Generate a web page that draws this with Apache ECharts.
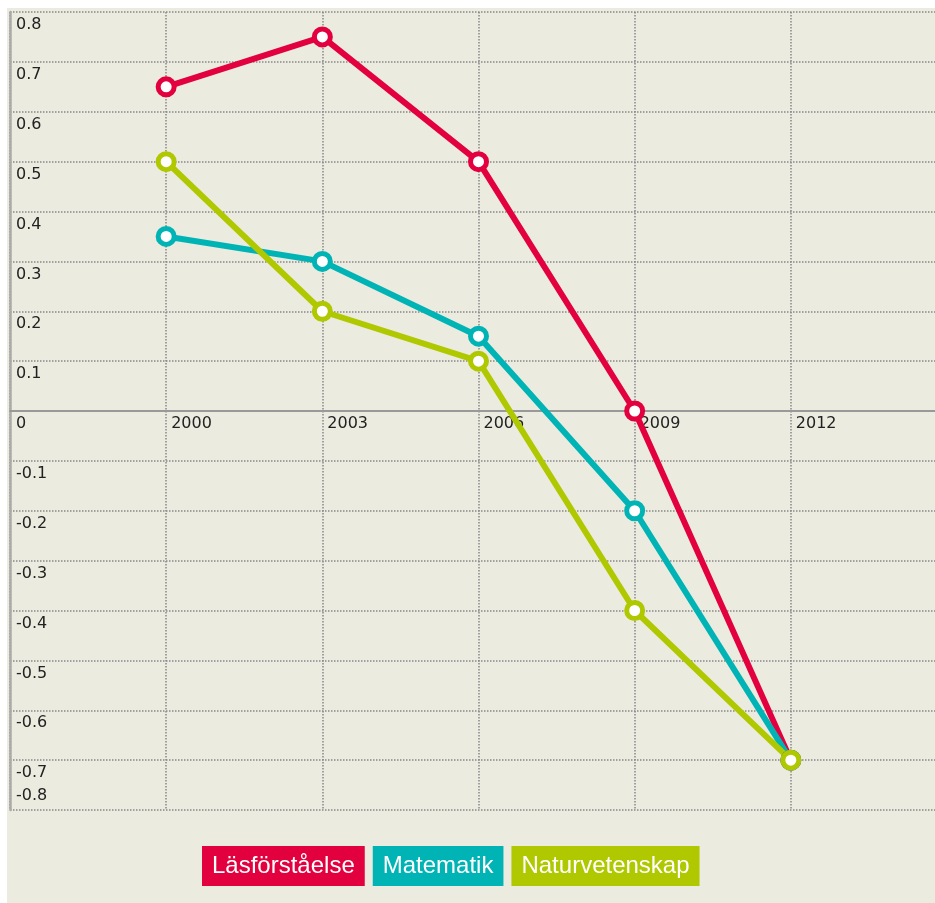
<!DOCTYPE html>
<html>
<head>
<meta charset="utf-8">
<script src="https://cdn.jsdelivr.net/npm/echarts@6/dist/echarts.min.js"></script>
<style>
  html, body { margin: 0; padding: 0; background: #fff; }
  #chart {
    position: absolute;
    left: 7px;
    top: 8px;
    width: 928px;
    height: 895px;
    background: #ecebe0;
  }
</style>
</head>
<body>
<div id="chart"></div>
<script>
  // PISA-style trend, change relative to mean
  const years = [2000, 2003, 2006, 2009, 2012];
  const lasforstaelse = [0.65, 0.75, 0.5, 0.0, -0.7];
  const matematik = [0.35, 0.3, 0.15, -0.2, -0.7];
  const naturvetenskap = [0.5, 0.2, 0.1, -0.4, -0.7];

  const seriesNames = ["Läsförståelse", "Matematik", "Naturvetenskap"];
  const seriesColors = ["#e2003e", "#00b3b5", "#afc800"];
  const seriesValues = [lasforstaelse, matematik, naturvetenskap];

  const chart = echarts.init(document.getElementById("chart"));

  const fmt = (v) => {
    const r = Math.round(v * 10) / 10;
    return r === 0 ? "0" : String(r);
  };

  const labelFont = {
    fontFamily: "DejaVu Sans",
    fontSize: 16,
    color: "#222",
  };

  const gridLine = { type: [1.5, 1.5], color: "#888", width: 1.5 };

  const option = {
    animation: false,
    grid: {
      left: 3,
      top: 4,
      width: 937,
      height: 798,
      outerBoundsMode: "none",
    },
    legend: {
      top: 838,
      left: 189,
      padding: 0,
      itemGap: 2,
      itemWidth: 0,
      itemHeight: 0,
      selectedMode: false,
      textStyle: {
        fontFamily: "Liberation Sans",
        fontSize: 24,
        color: "#fff",
        padding: [8, 10],
        lineHeight: 24,
      },
      data: seriesNames.map((n, i) => ({
        name: n,
        icon: "rect",
        textStyle: { backgroundColor: seriesColors[i] },
      })),
    },
    xAxis: {
      type: "value",
      min: 1997,
      max: 2015,
      interval: 3,
      position: "bottom",
      offset: -399, // put the axis on the zero line
      axisLine: {
        onZero: false,
        lineStyle: { color: "#999", width: 2 },
      },
      axisTick: { show: false },
      splitLine: { lineStyle: gridLine },
      axisLabel: {
        ...labelFont,
        align: "left",
        margin: 5,
        padding: [0, 0, 0, 5],
        formatter: (v) => (years.includes(v) ? String(v) : ""),
      },
    },
    yAxis: [
      {
        type: "value",
        position: "left",
        min: -0.8,
        max: 0.8,
        interval: 0.1,
        axisLine: {
          show: true,
          lineStyle: { color: "#aaa", width: 2.5 },
        },
        axisTick: { show: false },
        splitLine: { lineStyle: gridLine },
        axisLabel: {
          ...labelFont,
          inside: true,
          margin: 6,
          verticalAlign: "top",
          padding: [5, 0, 0, 0],
          formatter: (v) => (Math.round(v * 10) === -8 ? "" : fmt(v)),
        },
      },
      {
        // only the bottom label, sitting above its line
        type: "value",
        position: "left",
        min: -0.8,
        max: 0.8,
        interval: 0.1,
        axisLine: { show: false },
        axisTick: { show: false },
        splitLine: { show: false },
        axisLabel: {
          ...labelFont,
          inside: true,
          margin: 6,
          verticalAlign: "bottom",
          padding: [0, 0, 6, 0],
          formatter: (v) => (Math.round(v * 10) === -8 ? fmt(v) : ""),
        },
      },
    ],
    series: seriesNames.map((name, i) => ({
      name: name,
      type: "line",
      data: years.map((y, j) => [y, seriesValues[i][j]]),
      symbol: "circle",
      symbolSize: 16,
      lineStyle: { color: seriesColors[i], width: 6 },
      itemStyle: {
        color: "#fff",
        borderColor: seriesColors[i],
        borderWidth: 5,
      },
      emphasis: { disabled: true },
    })),
  };

  chart.setOption(option);
</script>
</body>
</html>
